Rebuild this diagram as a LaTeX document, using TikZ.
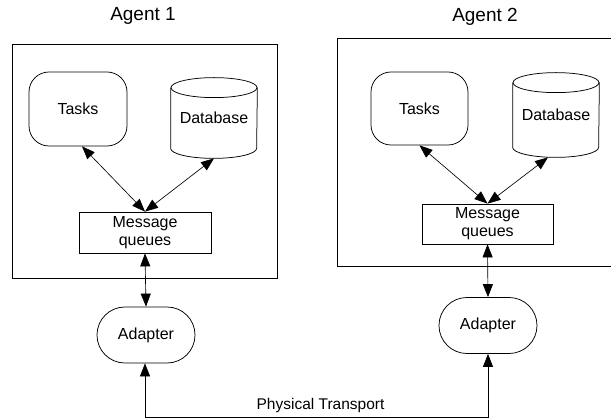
\documentclass[tikz,border=0pt]{standalone}
\usepackage{fontspec}
\setmainfont{Liberation Sans}
\usetikzlibrary{arrows.meta,calc}
\newcommand\dbcylinder[1]{%
  \draw ([yshift=-10pt]#1.north west) -- ([yshift=10pt]#1.south west)
    arc[start angle=180, end angle=360, x radius=43pt, y radius=10pt]
    -- ([yshift=-10pt]#1.north east);
  \draw ([yshift=-10pt]#1.north) ellipse [x radius=43pt, y radius=10pt];}
\begin{document}
\begin{tikzpicture}[x=1pt,y=-1pt,
  line width=0.75pt, draw=black,
  every node/.style={font=\fontsize{16}{18}\selectfont, inner sep=0pt, text=black},
  taskbox/.style={draw, rounded corners=20pt, minimum width=98pt, minimum height=74pt},
  dbbox/.style={minimum width=86pt, minimum height=80pt},
  mqbox/.style={draw, minimum width=132pt, minimum height=41pt, align=center},
  adapterbox/.style={draw, rounded corners=27.9pt, minimum width=98pt, minimum height=56pt},
  agentbox/.style={draw},
  agentlabel/.style={font=\fontsize{19}{21}\selectfont},
  link/.style={{Triangle[length=13pt,width=10pt]}-{Triangle[length=13pt,width=10pt]}, line width=0.65pt}
]
\clip (0,0) rectangle (611,419);

% agent boxes and labels
\node[agentbox, minimum width=265pt, minimum height=234pt] (agentA) at (144.5,161) {};
\node[agentbox, minimum width=275pt, minimum height=228pt] (agentB) at (474.5,152) {};
\node[agentlabel] (labA) at (143,16) {Agent 1};
\node[agentlabel] (labB) at (485,17) {Agent 2};

% agent 1
\node[taskbox] (tasksA) at (78,109) {Tasks};
\node[dbbox] (dbA) at (214,118) {Database};
\dbcylinder{dbA}
\node[mqbox] (mqA) at (145,232.5) {Message\\queues};
\node[adapterbox] (adA) at (146,335) {Adapter};

% agent 2
\node[taskbox, minimum width=97pt, minimum height=73pt] (tasksB) at (419.5,108.5) {Tasks};
\node[dbbox, minimum height=84pt] (dbB) at (556,115) {Database};
\dbcylinder{dbB}
\node[mqbox, minimum width=131pt, minimum height=40pt] (mqB) at (487.5,224) {Message\\queues};
\node[adapterbox] (adB) at (488,325.5) {Adapter};

% connectors
\draw[link] ([xshift=4pt]tasksA.south) -- (mqA.north);
\draw[link] (dbA.south) -- (mqA.north);
\draw[link] (mqA.south) -- (adA.north);
\draw[link] (tasksB.south) -- (mqB.north);
\draw[link] ([xshift=-8pt]dbB.south) -- (mqB.north);
\draw[link] (mqB.south) -- (adB.north);

\coordinate (tA) at (145,417);
\coordinate (tB) at (488,417);
\draw[link] ([xshift=-1pt]adA.south) -- (tA) -- (tB) -- (adB.south);
\node[font=\fontsize{15.5}{17}\selectfont] (transport) at (320.5,405) {Physical Transport};
\end{tikzpicture}
\end{document}
